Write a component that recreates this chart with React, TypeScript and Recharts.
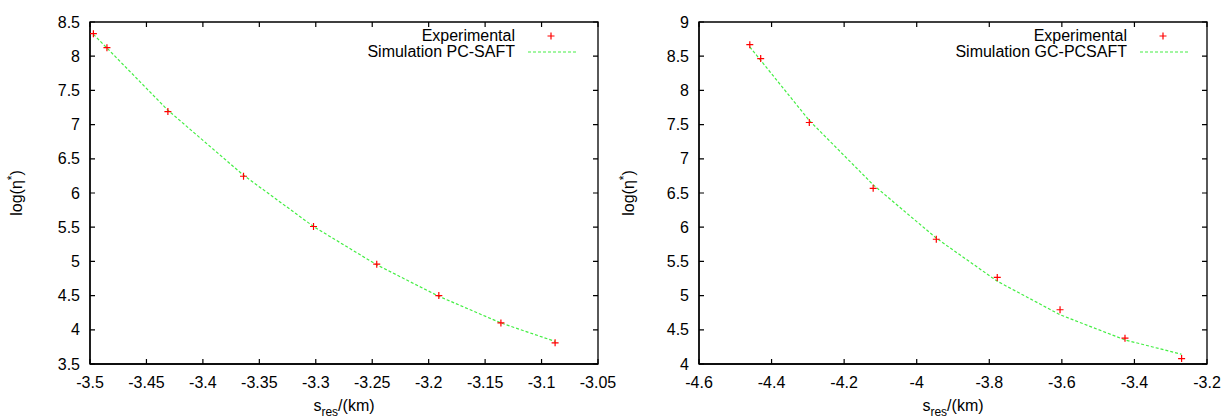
import React from 'react';
import {
  ComposedChart,
  XAxis,
  YAxis,
  Scatter,
  Line,
  Legend,
  Label,
  ReferenceArea,
} from 'recharts';

// ---- Left panel: PC-SAFT ----
const sresA = [-3.497, -3.485, -3.431, -3.364, -3.302, -3.246, -3.191, -3.136, -3.088];
const expA = [8.33, 8.125, 7.19, 6.245, 5.51, 4.96, 4.5, 4.1, 3.81];
const simA = [8.32, 8.12, 7.21, 6.26, 5.51, 4.95, 4.49, 4.1, 3.83];
const xTicksA = [-3.5, -3.45, -3.4, -3.35, -3.3, -3.25, -3.2, -3.15, -3.1, -3.05];
const yTicksA = [3.5, 4, 4.5, 5, 5.5, 6, 6.5, 7, 7.5, 8, 8.5];

// ---- Right panel: GC-PCSAFT ----
const sresB = [-4.46, -4.43, -4.296, -4.12, -3.946, -3.778, -3.605, -3.426, -3.27];
const expB = [8.669, 8.465, 7.531, 6.568, 5.824, 5.265, 4.793, 4.377, 4.08];
const simB = [8.635, 8.44, 7.56, 6.62, 5.84, 5.21, 4.72, 4.352, 4.142];
const xTicksB = [-4.6, -4.4, -4.2, -4, -3.8, -3.6, -3.4, -3.2];
const yTicksB = [4, 4.5, 5, 5.5, 6, 6.5, 7, 7.5, 8, 8.5, 9];

const expName = 'Experimental';
const simNameA = 'Simulation PC-SAFT';
const simNameB = 'Simulation GC-PCSAFT';

const FONT = '"Liberation Sans", Arial, Helvetica, sans-serif';
const RED = '#ff0000';
const GREEN = '#44ee44';
const CHART_H = 418;
const PLOT_TOP = 22;
const X_AXIS_H = 54;
const TICK_LEN = 5;

const toRows = (xs: number[], ys: number[]) => xs.map((x, i) => ({ x, y: ys[i] }));

const PlusShape = (props: any) => {
  const { cx, cy } = props;
  if (cx == null || cy == null) return null;
  const h = 3.5;
  return (
    <path
      d={`M${cx - h},${cy}H${cx + h}M${cx},${cy - h}V${cy + h}`}
      stroke={RED}
      strokeWidth={1.2}
      fill="none"
    />
  );
};

const XLabel = (props: any) => {
  const vb = props.viewBox || {};
  const cx = vb.x + vb.width / 2;
  return (
    <text x={cx} y={411} textAnchor="middle" fontSize={16} fill="#000" fontFamily={FONT}>
      s
      <tspan dy={5} fontSize={12}>
        res
      </tspan>
      <tspan dy={-5}>/(km)</tspan>
    </text>
  );
};

const YLabel = (props: any) => {
  const vb = props.viewBox || {};
  const cy = vb.y + vb.height / 2;
  return (
    <text
      transform={`translate(22,${cy}) rotate(-90)`}
      x={0}
      y={0}
      textAnchor="middle"
      fontSize={16}
      fill="#000"
      fontFamily={FONT}
    >
      log(η
      <tspan dy={-6} fontSize={12}>
        *
      </tspan>
      <tspan dy={6}>)</tspan>
    </text>
  );
};

const makeLegend = (simName: string) => () => (
  <div style={{ fontFamily: FONT, fontSize: 16, color: '#000', position: 'relative', width: 300, height: 32 }}>
    <div style={{ position: 'absolute', left: 0, top: 0, width: 225, height: 16, lineHeight: '16px', textAlign: 'right', fontSize: 16, whiteSpace: 'nowrap' }}>
      {expName}
    </div>
    <svg width={75} height={16} style={{ position: 'absolute', left: 225, top: 0 }}>
      <path d="M32.5,8H39.5M36,4.5V11.5" stroke={RED} strokeWidth={1.2} fill="none" />
    </svg>
    <div style={{ position: 'absolute', left: 0, top: 16, width: 225, height: 16, lineHeight: '16px', textAlign: 'right', fontSize: 16, whiteSpace: 'nowrap' }}>
      {simName}
    </div>
    <svg width={75} height={16} style={{ position: 'absolute', left: 225, top: 16 }}>
      <line x1={13} y1={8} x2={61} y2={8} stroke={GREEN} strokeWidth={1.2} strokeDasharray="3 2" />
    </svg>
  </div>
);

type PanelProps = {
  sres: number[];
  exp: number[];
  sim: number[];
  xTicks: number[];
  yTicks: number[];
  simName: string;
  yAxisWidth: number;
  rightMargin: number;
  chartWidth: number;
};

const Panel = ({ sres, exp, sim, xTicks, yTicks, simName, yAxisWidth, rightMargin, chartWidth }: PanelProps) => {
  const expRows = toRows(sres, exp);
  const simRows = toRows(sres, sim);
  const xDomain = [xTicks[0], xTicks[xTicks.length - 1]];
  const yDomain = [yTicks[0], yTicks[yTicks.length - 1]];
  const plotLeft = yAxisWidth;
  const plotRight = chartWidth - rightMargin;
  const plotBottom = CHART_H - X_AXIS_H;
  const axisLine = { stroke: '#000', strokeWidth: 1.3 };

  // x tick: label + inward tick at bottom + mirrored inward tick at top
  const XTick = (props: any) => {
    const { x, y, payload } = props;
    return (
      <g>
        <path
          d={`M${x},${plotBottom}V${plotBottom - TICK_LEN}M${x},${PLOT_TOP}V${PLOT_TOP + TICK_LEN}`}
          stroke="#000"
          strokeWidth={1.2}
          fill="none"
        />
        <text x={x} y={y} dy="0.71em" textAnchor="middle" fontSize={16} fill="#000" fontFamily={FONT}>
          {String(payload.value)}
        </text>
      </g>
    );
  };

  // y tick: label + inward tick at left + mirrored inward tick at right
  const YTick = (props: any) => {
    const { x, y, payload } = props;
    return (
      <g>
        <path
          d={`M${plotLeft},${y}H${plotLeft + TICK_LEN}M${plotRight},${y}H${plotRight - TICK_LEN}`}
          stroke="#000"
          strokeWidth={1.2}
          fill="none"
        />
        <text x={x} y={y} dy="0.355em" textAnchor="end" fontSize={16} fill="#000" fontFamily={FONT}>
          {String(payload.value)}
        </text>
      </g>
    );
  };

  return (
    <ComposedChart
      width={chartWidth}
      height={CHART_H}
      margin={{ top: PLOT_TOP, right: rightMargin, bottom: 0, left: 0 }}
      style={{ fontFamily: FONT }}
    >
      <XAxis
        xAxisId="b"
        dataKey="x"
        type="number"
        orientation="bottom"
        domain={xDomain}
        ticks={xTicks}
        allowDataOverflow
        interval={0}
        height={X_AXIS_H}
        tickSize={0}
        tickMargin={13}
        axisLine={axisLine}
        tickLine={false}
        tick={XTick}
      >
        <Label content={XLabel} />
      </XAxis>
      <YAxis
        yAxisId="l"
        dataKey="y"
        type="number"
        orientation="left"
        domain={yDomain}
        ticks={yTicks}
        allowDataOverflow
        interval={0}
        width={yAxisWidth}
        tickSize={0}
        tickMargin={10}
        axisLine={axisLine}
        tickLine={false}
        tick={YTick}
      >
        <Label content={YLabel} />
      </YAxis>
      <ReferenceArea
        xAxisId="b"
        yAxisId="l"
        x1={xDomain[0]}
        x2={xDomain[1]}
        y1={yDomain[0]}
        y2={yDomain[1]}
        fill="#ffffff"
        fillOpacity={0}
        stroke="#000"
        strokeWidth={1.3}
        ifOverflow="visible"
      />
      <Line
        xAxisId="b"
        yAxisId="l"
        data={simRows}
        dataKey="y"
        name={simName}
        type="linear"
        stroke={GREEN}
        strokeWidth={1.2}
        strokeDasharray="3 2"
        dot={false}
        activeDot={false}
        isAnimationActive={false}
      />
      <Scatter
        xAxisId="b"
        yAxisId="l"
        data={expRows}
        dataKey="y"
        name={expName}
        shape={PlusShape}
        isAnimationActive={false}
      />
      <Legend
        layout="vertical"
        align="center"
        verticalAlign="middle"
        content={makeLegend(simName)}
        wrapperStyle={{ top: 28, left: 290, width: 300, height: 32 }}
      />
    </ComposedChart>
  );
};

export default function App() {
  return (
    <div
      style={{
        position: 'absolute',
        left: 0,
        top: 0,
        width: 1224,
        height: 418,
        background: '#fff',
        display: 'flex',
      }}
    >
      <div style={{ width: 640, height: 418, marginRight: -28, flex: 'none' }}>
        <Panel
          sres={sresA}
          exp={expA}
          sim={simA}
          xTicks={xTicksA}
          yTicks={yTicksA}
          simName={simNameA}
          yAxisWidth={90}
          rightMargin={42}
          chartWidth={640}
        />
      </div>
      <div style={{ width: 612, height: 418, flex: 'none' }}>
        <Panel
          sres={sresB}
          exp={expB}
          sim={simB}
          xTicks={xTicksB}
          yTicks={yTicksB}
          simName={simNameB}
          yAxisWidth={87}
          rightMargin={17}
          chartWidth={612}
        />
      </div>
    </div>
  );
}
